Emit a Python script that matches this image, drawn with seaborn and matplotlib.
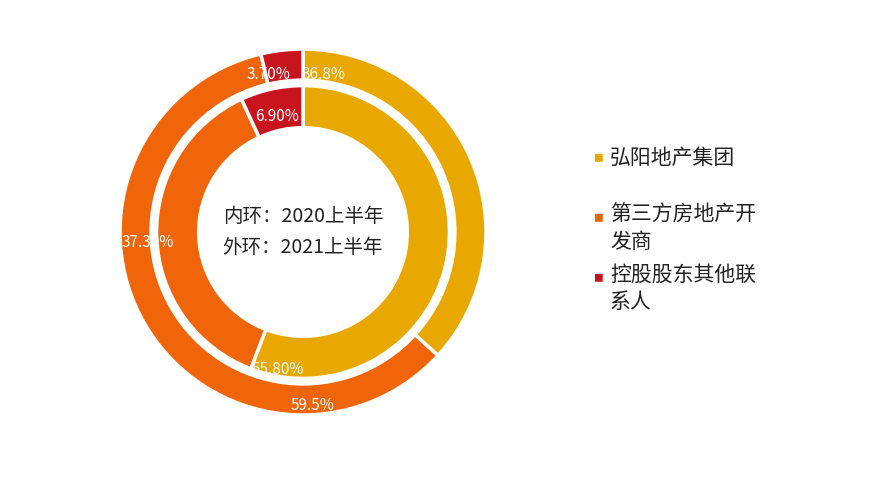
import matplotlib
matplotlib.use("Agg")
import matplotlib.pyplot as plt
import seaborn as sns

sns.set_theme(style="white")
plt.rcParams['font.family'] = ['Noto Sans CJK SC', 'DejaVu Sans']

categories = ["弘阳地产集团", "第三方房地产开\n发商", "控股股东其他联\n系人"]
outer_2021 = [36.8, 59.5, 3.7]
inner_2020 = [55.8, 37.3, 6.9]
outer_labels = ["36.8%", "59.5%", "3.70%"]
inner_labels = ["55.80%", "37.30%", "6.90%"]
colors = ["#E8A800", "#F0650A", "#C8141E"]

fig = plt.figure(figsize=(8.76, 4.8), dpi=100)
ax = fig.add_axes([120/876, 65/480, 366/876, 366/480])
wp = dict(edgecolor="white", linewidth=2.5)
ax.pie(outer_2021, radius=1.0, colors=colors, startangle=90, counterclock=False,
       wedgeprops=dict(width=0.17, **wp))
ax.pie(inner_2020, radius=0.80, colors=colors, startangle=90, counterclock=False,
       wedgeprops=dict(width=0.23, **wp))
ax.set_xlim(-1, 1); ax.set_ylim(-1, 1); ax.set_aspect("equal"); ax.axis("off")

outer_pos = [(0.11, 0.86), (0.05, -0.95), (-0.19, 0.86)]
inner_pos = [(-0.14, -0.75), (-0.85, -0.06), (-0.14, 0.63)]
for t, p in zip(outer_labels + inner_labels, outer_pos + inner_pos):
    ax.text(*p, t, color="white", fontsize=11, ha="center", va="center")
ax.text(0, 0, "内环：2020上半年\n外环：2021上半年", fontsize=14, ha="center",
        va="center", color="#222222", linespacing=1.6)

for i, (c, lab) in enumerate(zip(colors, categories)):
    y = 1 - 158/480 - i*60/480
    fig.text(598/876, y, "■", color=c, fontsize=7, va="center", ha="center")
    if "\n" in lab:
        fig.text(610/876, y + 14/480, lab, fontsize=15, va="top",
                 color="#222222", linespacing=1.3)
    else:
        fig.text(610/876, y, lab, fontsize=15, va="center", color="#222222")
fig.savefig("out.png", dpi=100, facecolor="white")
